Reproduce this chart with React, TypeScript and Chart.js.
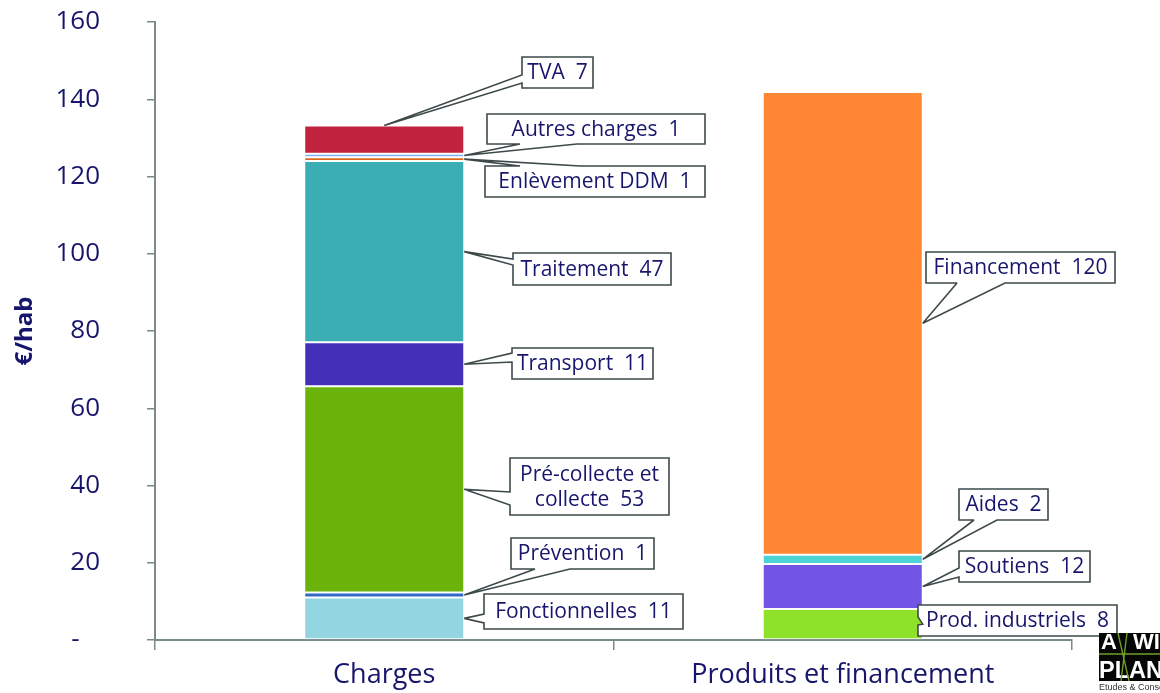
import React, { useEffect, useRef } from 'react';
import { Chart, registerables } from 'chart.js';

Chart.register(...registerables);

// ---------- data ----------
const categories = ['Charges', 'Produits et financement'];

const chargeNames = [
  'Fonctionnelles',
  'Prévention',
  'Pré-collecte et collecte',
  'Transport',
  'Traitement',
  'Enlèvement DDM',
  'Autres charges',
  'TVA',
];
const chargeValues = [11.0, 1.3, 53.4, 11.4, 46.9, 1.0, 0.9, 7.3];
const chargeColors = ['#93D6E2', '#3468C6', '#6BB30B', '#442FB9', '#3AADB5', '#D9691F', '#7FB2F2', '#C2233E'];

const produitNames = ['Prod. industriels', 'Soutiens', 'Aides', 'Financement'];
const produitValues = [8.0, 11.7, 2.4, 119.8];
const produitColors = ['#8FE22A', '#7355E6', '#4DD3D6', '#FF8734'];

const yTickValues = [0, 20, 40, 60, 80, 100, 120, 140, 160];
const yTickLabels = ['-   ', '20', '40', '60', '80', '100', '120', '140', '160'];
const yAxisTitle = '€/hab';

// ---------- styles / layout ----------
const FONT = '"Open Sans", "Noto Sans", sans-serif';
const NAVY = '#17166C';
const AXIS = '#7A8A8A';
const BOX_STROKE = '#3E4A4A';

type Side = 'left' | 'top' | 'bottom';
interface Callout {
  box: [number, number, number, number];
  side: Side;
  at: [number, number];
  anchor: 'top' | 'right';
}

const calloutLayout: Record<string, Callout> = {
  'TVA': { box: [522, 57, 71, 31], side: 'left', at: [18, 26], anchor: 'top' },
  'Autres charges': { box: [487, 114, 218, 30], side: 'bottom', at: [33, 90], anchor: 'right' },
  'Enlèvement DDM': { box: [485, 166, 220, 31], side: 'top', at: [35, 95], anchor: 'right' },
  'Traitement': { box: [513, 253, 158, 32], side: 'left', at: [6, 12], anchor: 'right' },
  'Transport': { box: [512, 348, 141, 31], side: 'left', at: [5, 14], anchor: 'right' },
  'Pré-collecte et collecte': { box: [510, 458, 159, 57], side: 'left', at: [34, 47], anchor: 'right' },
  'Prévention': { box: [511, 538, 143, 31], side: 'bottom', at: [24, 59], anchor: 'right' },
  'Fonctionnelles': { box: [484, 594, 199, 35], side: 'left', at: [20, 29], anchor: 'right' },
  'Financement': { box: [926, 252, 189, 31], side: 'bottom', at: [31, 79], anchor: 'right' },
  'Aides': { box: [959, 489, 89, 31], side: 'bottom', at: [15, 38], anchor: 'right' },
  'Soutiens': { box: [959, 551, 131, 31], side: 'left', at: [17, 26], anchor: 'right' },
  'Prod. industriels': { box: [918, 605, 199, 31], side: 'left', at: [12, 20], anchor: 'right' },
};

function wrapLines(ctx: CanvasRenderingContext2D, name: string, value: number, maxW: number, multi: boolean): string[] {
  const words = name.split(' ');
  const last = words.pop() as string;
  const tokens = [...words, `${last}  ${Math.round(value)}`];
  if (!multi) return [tokens.join(' ')];
  const lines: string[] = [];
  let cur = '';
  tokens.forEach((t) => {
    const test = cur ? cur + ' ' + t : t;
    if (cur && ctx.measureText(test).width > maxW) {
      lines.push(cur);
      cur = t;
    } else cur = test;
  });
  if (cur) lines.push(cur);
  return lines;
}

function drawCallout(
  ctx: CanvasRenderingContext2D,
  c: Callout,
  ax: number,
  ay: number,
  name: string,
  value: number
) {
  const [x, y, w, h] = c.box;
  ctx.save();
  ctx.beginPath();
  ctx.moveTo(x, y);
  if (c.side === 'top') {
    ctx.lineTo(x + c.at[0], y);
    ctx.lineTo(ax, ay);
    ctx.lineTo(x + c.at[1], y);
  }
  ctx.lineTo(x + w, y);
  ctx.lineTo(x + w, y + h);
  if (c.side === 'bottom') {
    ctx.lineTo(x + c.at[1], y + h);
    ctx.lineTo(ax, ay);
    ctx.lineTo(x + c.at[0], y + h);
  }
  ctx.lineTo(x, y + h);
  if (c.side === 'left') {
    ctx.lineTo(x, y + c.at[1]);
    ctx.lineTo(ax, ay);
    ctx.lineTo(x, y + c.at[0]);
  }
  ctx.closePath();
  ctx.fillStyle = '#FFFFFF';
  ctx.fill();
  ctx.lineWidth = 1.6;
  ctx.miterLimit = 2;
  ctx.strokeStyle = BOX_STROKE;
  ctx.stroke();

  ctx.font = `21px ${FONT}`;
  ctx.fillStyle = NAVY;
  ctx.textAlign = 'center';
  ctx.textBaseline = 'middle';
  const lines = wrapLines(ctx, name, value, w - 8, h > 45);
  const lh = 25;
  const startY = y + h / 2 - ((lines.length - 1) * lh) / 2;
  lines.forEach((ln, i) => {
    ctx.fillText(ln, x + w / 2, startY + i * lh + 1, w - 6);
  });
  ctx.restore();
}

function fitText(ctx: CanvasRenderingContext2D, text: string, x: number, y: number, width: number) {
  const m = ctx.measureText(text).width;
  ctx.save();
  ctx.translate(x, y);
  ctx.scale(width / m, 1);
  ctx.fillText(text, 0, 0);
  ctx.restore();
}

function drawLogo(ctx: CanvasRenderingContext2D) {
  const lx = 1099, ly = 633, lw = 61, lh = 48;
  ctx.save();
  ctx.fillStyle = '#060606';
  ctx.fillRect(lx, ly, lw, lh);
  ctx.beginPath();
  ctx.rect(lx, ly, lw, lh);
  ctx.clip();
  ctx.fillStyle = '#FFFFFF';
  ctx.textAlign = 'left';
  ctx.textBaseline = 'alphabetic';
  ctx.font = 'bold 22px "Liberation Sans", Arial, sans-serif';
  ctx.fillText('A', lx + 2, ly + 16);
  ctx.fillText('WI', lx + 34, ly + 16);
  ctx.font = 'bold 24px "Liberation Sans", Arial, sans-serif';
  fitText(ctx, 'PLAN', lx, ly + 45, 64);
  ctx.strokeStyle = '#6E9E2A';
  ctx.lineWidth = 1.4;
  ctx.beginPath();
  ctx.moveTo(lx + 19, ly);
  ctx.lineTo(lx + 30, ly + lh);
  ctx.moveTo(lx + 28, ly);
  ctx.lineTo(lx + 22, ly + lh);
  ctx.moveTo(lx, ly + 21);
  ctx.lineTo(lx + lw, ly + 21);
  ctx.stroke();
  ctx.restore();
  ctx.save();
  ctx.fillStyle = '#333333';
  ctx.font = '9px "Liberation Sans", Arial, sans-serif';
  ctx.textAlign = 'left';
  ctx.textBaseline = 'alphabetic';
  ctx.fillText('Etudes & Conseil', lx, ly + lh + 9);
  ctx.restore();
}

const calloutPlugin = {
  id: 'callouts',
  afterDraw(chart: any) {
    const ctx: CanvasRenderingContext2D = chart.ctx;
    chart.data.datasets.forEach((ds: any, i: number) => {
      const meta = chart.getDatasetMeta(i);
      const el = meta.data[ds.catIndex];
      if (!el) return;
      const p = el.getProps(['x', 'y', 'base', 'width'], true);
      const c = calloutLayout[ds.label];
      if (!c) return;
      const top = Math.min(p.y, p.base);
      const bottom = Math.max(p.y, p.base);
      let ax: number, ay: number;
      if (c.anchor === 'top') {
        ax = p.x;
        ay = top;
      } else {
        ax = p.x + p.width / 2;
        ay = (top + bottom) / 2;
      }
      drawCallout(ctx, c, ax, ay, ds.label, ds.value);
    });
    drawLogo(ctx);
  },
};

export default function App() {
  const ref = useRef<HTMLCanvasElement | null>(null);

  useEffect(() => {
    if (!ref.current) return;
    const mk = (names: string[], values: number[], colors: string[], catIndex: number) =>
      names.map((n, k) => ({
        label: n,
        value: values[k],
        catIndex,
        data: categories.map((_, ci) => (ci === catIndex ? values[k] : null)),
        backgroundColor: colors[k],
        borderColor: '#FFFFFF',
        borderWidth: 1,
        borderSkipped: false,
        stack: 's',
        barPercentage: 0.349,
        categoryPercentage: 1,
      }));
    const datasets = [
      ...mk(chargeNames, chargeValues, chargeColors, 0),
      ...mk(produitNames, produitValues, produitColors, 1),
    ];

    const chart = new Chart(ref.current, {
      type: 'bar',
      data: { labels: categories, datasets: datasets as any },
      plugins: [calloutPlugin],
      options: {
        animation: false,
        responsive: false,
        maintainAspectRatio: false,
        layout: { padding: { top: 22, right: 88, left: 0, bottom: 0 } },
        plugins: {
          legend: { display: false },
          tooltip: { enabled: false },
        },
        scales: {
          x: {
            stacked: true,
            offset: true,
            grid: {
              offset: true,
              drawOnChartArea: false,
              drawTicks: true,
              tickLength: 10,
              color: AXIS,
              lineWidth: 1.5,
            },
            border: { display: true, color: AXIS, width: 2 },
            ticks: {
              color: NAVY,
              font: { family: FONT, size: 27 },
              padding: 9,
            },
            afterFit: (s: any) => {
              s.height = 53;
              s.paddingLeft = 0;
              s.paddingRight = 0;
            },
          },
          y: {
            stacked: true,
            min: 0,
            max: 160,
            afterBuildTicks: (s: any) => {
              s.ticks = yTickValues.map((v) => ({ value: v }));
            },
            ticks: {
              color: NAVY,
              font: { family: FONT, size: 26 },
              padding: 47,
              callback: (v: any) => {
                const idx = yTickValues.indexOf(Number(v));
                return idx >= 0 ? yTickLabels[idx] : '';
              },
            },
            grid: {
              drawOnChartArea: false,
              drawTicks: true,
              tickLength: 8,
              color: AXIS,
              lineWidth: 1.5,
            },
            border: { display: true, color: AXIS, width: 2 },
            title: {
              display: true,
              text: yAxisTitle,
              color: NAVY,
              font: { family: FONT, size: 24, weight: 'bold' },
              padding: { top: 11, bottom: 0 },
            },
            afterFit: (s: any) => {
              s.width = 155;
              s.paddingTop = 10;
              s.paddingBottom = 10;
            },
          },
        },
      } as any,
    });
    return () => chart.destroy();
  }, []);

  return (
    <div style={{ position: 'absolute', left: 0, top: 0, width: 1160, height: 693, background: '#FFFFFF' }}>
      <canvas ref={ref} width={1160} height={693} style={{ width: 1160, height: 693, display: 'block' }} />
    </div>
  );
}
